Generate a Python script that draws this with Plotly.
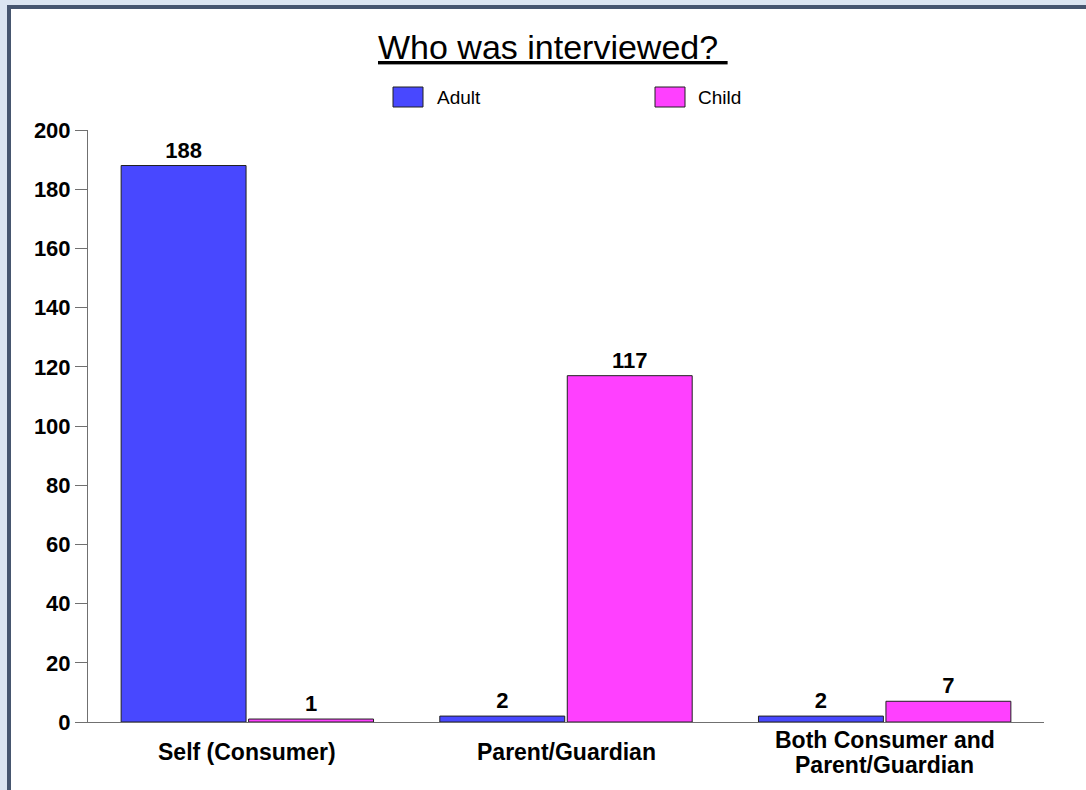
import plotly.graph_objects as go

# Survey counts: who was interviewed, split by respondent age group
categories = ["Self (Consumer)", "Parent/Guardian", "Both Consumer and<br>Parent/Guardian"]
series_names = ["Adult", "Child"]
adult_values = [188, 2, 2]
child_values = [1, 117, 7]
y_ticks = [0, 20, 40, 60, 80, 100, 120, 140, 160, 180, 200]

series_colors = ["#4848FF", "#FF40FF"]
FONT = "Arial, Liberation Sans, sans-serif"

# Figure size and plot-area edges in pixels
W, H = 1086, 790
L, R, T, B = 88, 1044, 130, 722


def px_x(p):
    return (p - L) / (R - L)


def px_y(p):
    return (B - p) / (B - T)


fig = go.Figure()
for name, vals, col in zip(series_names, [adult_values, child_values], series_colors):
    fig.add_trace(go.Bar(
        name=name, x=categories, y=vals,
        marker=dict(color=col, line=dict(color="#202020", width=1)),
        text=vals, texttemplate="<b>%{text}</b>", textposition="outside",
        textfont=dict(family=FONT, size=22, color="black"),
        cliponaxis=False, showlegend=False,
    ))

shapes = [
    # panel frame
    dict(type="rect", xref="paper", yref="paper", layer="below",
         x0=px_x(9), x1=px_x(1110), y0=px_y(7), y1=px_y(820),
         line=dict(color="#46566F", width=4), fillcolor="white"),
]
annotations = []

# hand-placed legend
legend_items = [(393, 435), (655, 696)]
for (bx, tx), name, col in zip(legend_items, series_names, series_colors):
    shapes.append(dict(type="rect", xref="paper", yref="paper",
                       x0=px_x(bx), x1=px_x(bx + 30), y0=px_y(87), y1=px_y(107),
                       line=dict(color="#202020", width=1), fillcolor=col))
    annotations.append(dict(xref="paper", yref="paper", x=px_x(tx), y=px_y(97),
                            xanchor="left", yanchor="middle", showarrow=False,
                            text=name, font=dict(family=FONT, size=19, color="black")))

# category labels, each line placed separately so the block is centred at y=752
LINE_STEP = 25
for cat in categories:
    lines = cat.split("<br>")
    first = 752 - LINE_STEP * (len(lines) - 1) / 2
    for i, line in enumerate(lines):
        annotations.append(dict(xref="x", yref="paper", x=cat,
                                y=px_y(first + i * LINE_STEP),
                                xanchor="center", yanchor="middle", showarrow=False,
                                text="<b>" + line + "</b>",
                                font=dict(family=FONT, size=23, color="black")))

# underlined title
annotations.append(dict(xref="paper", yref="paper", x=px_x(553), y=px_y(47),
                        xanchor="center", yanchor="middle", showarrow=False,
                        text="<u>Who was interviewed? </u>",
                        font=dict(family=FONT, size=34, color="black")))

fig.update_layout(
    width=W, height=H,
    margin=dict(l=L, r=W - R, t=T, b=H - B, pad=0),
    paper_bgcolor="#DBE5F1", plot_bgcolor="rgba(0,0,0,0)",
    barmode="group", bargap=0.2, bargroupgap=0.02,
    shapes=shapes, annotations=annotations,
    showlegend=False,
)
fig.update_yaxes(
    range=[0, 200], tickvals=y_ticks, ticks="outside", ticklen=12,
    tickcolor="#707070", showline=True, linecolor="#707070", linewidth=1,
    showgrid=False, zeroline=False,
    tickfont=dict(family=FONT, size=22, color="black", weight="bold"),
)
fig.update_xaxes(
    showline=True, linecolor="#707070", linewidth=1, ticks="",
    showticklabels=False, showgrid=False, zeroline=False,
)

fig.write_html("out.html")
